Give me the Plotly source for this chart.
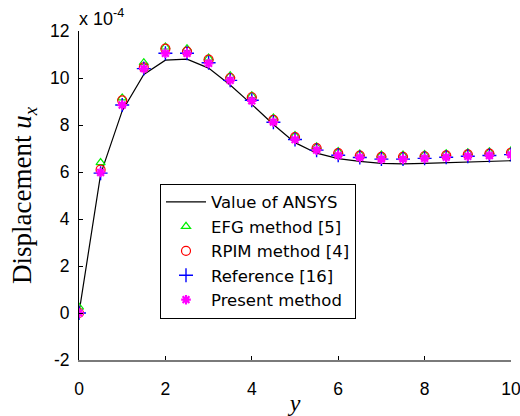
import plotly.graph_objects as go

# Position along the specimen
y_pos = [0, 0.5, 1, 1.5, 2, 2.5, 3, 3.5, 4, 4.5, 5, 5.5, 6, 6.5, 7, 7.5, 8, 8.5, 9, 9.5, 10]

# Displacement u_x (units of 1e-4)
ansys = [0, 5.9, 8.6, 10.15, 10.76, 10.8, 10.42, 9.7, 8.88, 8.02, 7.25, 6.8, 6.57, 6.45,
         6.37, 6.35, 6.37, 6.4, 6.44, 6.47, 6.48]
efg = [0.25, 6.4, 9.15, 10.65, 11.32, 11.25, 10.85, 10.1, 9.25, 8.3, 7.55, 7.08, 6.87, 6.77,
       6.72, 6.72, 6.75, 6.78, 6.82, 6.86, 6.9]
rpim = [0, 6.1, 9.05, 10.45, 11.25, 11.12, 10.78, 10.0, 9.18, 8.22, 7.48, 7.02, 6.8, 6.7,
        6.64, 6.64, 6.67, 6.71, 6.75, 6.78, 6.82]
ref16 = [0, 5.95, 8.85, 10.4, 11.05, 11.05, 10.65, 9.9, 9.05, 8.12, 7.38, 6.93, 6.71, 6.62,
         6.55, 6.55, 6.58, 6.63, 6.67, 6.7, 6.74]
present = [0, 5.98, 8.85, 10.4, 11.05, 11.05, 10.62, 9.9, 9.03, 8.12, 7.38, 6.93, 6.71, 6.62,
           6.55, 6.55, 6.58, 6.63, 6.67, 6.7, 6.74]

x_ticks = [0, 2, 4, 6, 8, 10]
x_labels = ["0", "2", "4", "6", "8", "10"]
y_ticks = [-2, 0, 2, 4, 6, 8, 10, 12]
y_labels = ["-2", "0", "2", "4", "6", "8", "10", "12"]

fig = go.Figure()
fig.add_trace(go.Scatter(x=y_pos, y=ansys, mode="lines", name="Value of ANSYS",
                         line=dict(color="black", width=1.2)))
fig.add_trace(go.Scatter(x=y_pos, y=efg, mode="markers", name="EFG method [5]",
                         marker=dict(symbol="triangle-up-open", size=8, color="#00ee00",
                                     line=dict(width=1.2))))
fig.add_trace(go.Scatter(x=y_pos, y=rpim, mode="markers", name="RPIM method [4]",
                         marker=dict(symbol="circle-open", size=9, color="#ff0000",
                                     line=dict(width=1.2))))
fig.add_trace(go.Scatter(x=y_pos, y=ref16, mode="markers", name="Reference [16]",
                         marker=dict(symbol="cross-thin-open", size=10, color="#0000ff",
                                     line=dict(width=1.4))))
fig.add_trace(go.Scatter(x=y_pos, y=present, mode="markers", name="Present method",
                         marker=dict(symbol="asterisk-open", size=8, color="#ff00ff",
                                     line=dict(width=2.2))))

sans = "Liberation Sans, Arial, sans-serif"
wide_sans = "DejaVu Sans, Liberation Sans, Arial, sans-serif"
serif = "Liberation Serif, Times New Roman, serif"
tick_font = dict(family=sans, size=17.5, color="black")

fig.update_layout(
    width=520, height=416,
    margin=dict(l=79, r=9, t=31, b=56),
    paper_bgcolor="white", plot_bgcolor="white",
    showlegend=True,
    legend=dict(x=0.1875, y=0.536, xanchor="left", yanchor="top",
                bgcolor="white", bordercolor="black", borderwidth=1,
                font=dict(family=wide_sans, size=16.5, color="black"),
                itemwidth=40, tracegroupgap=0),
    xaxis=dict(range=[0, 10], tickvals=x_ticks, ticktext=x_labels, ticks="inside", ticklen=4,
               tickcolor="black", showgrid=False, zeroline=False, automargin=False,
               showline=True, linecolor="#7a7a7a", linewidth=2,
               tickfont=tick_font, ticklabelstandoff=12, ticklabeloverflow="allow",
               title=dict(text="<i>y</i>", standoff=4,
                          font=dict(family=serif, size=24, color="black"))),
    yaxis=dict(range=[-2, 12], tickvals=y_ticks, ticktext=y_labels, ticks="inside", ticklen=4,
               tickcolor="black", showgrid=False, zeroline=False, automargin=False,
               showline=True, linecolor="black", linewidth=1,
               tickfont=tick_font, ticklabelstandoff=5, ticklabeloverflow="allow",
               title=dict(text="Displacement <i>u</i><sub><i>x</i></sub>", standoff=10,
                          font=dict(family=serif, size=27, color="black"))),
)

fig.add_annotation(x=0, y=1, xref="paper", yref="paper", xanchor="left", yanchor="bottom",
                   text="x 10<sup>-4</sup>", showarrow=False, yshift=0, xshift=-2,
                   font=dict(family=sans, size=18, color="black"))

fig.write_html("out.html")
